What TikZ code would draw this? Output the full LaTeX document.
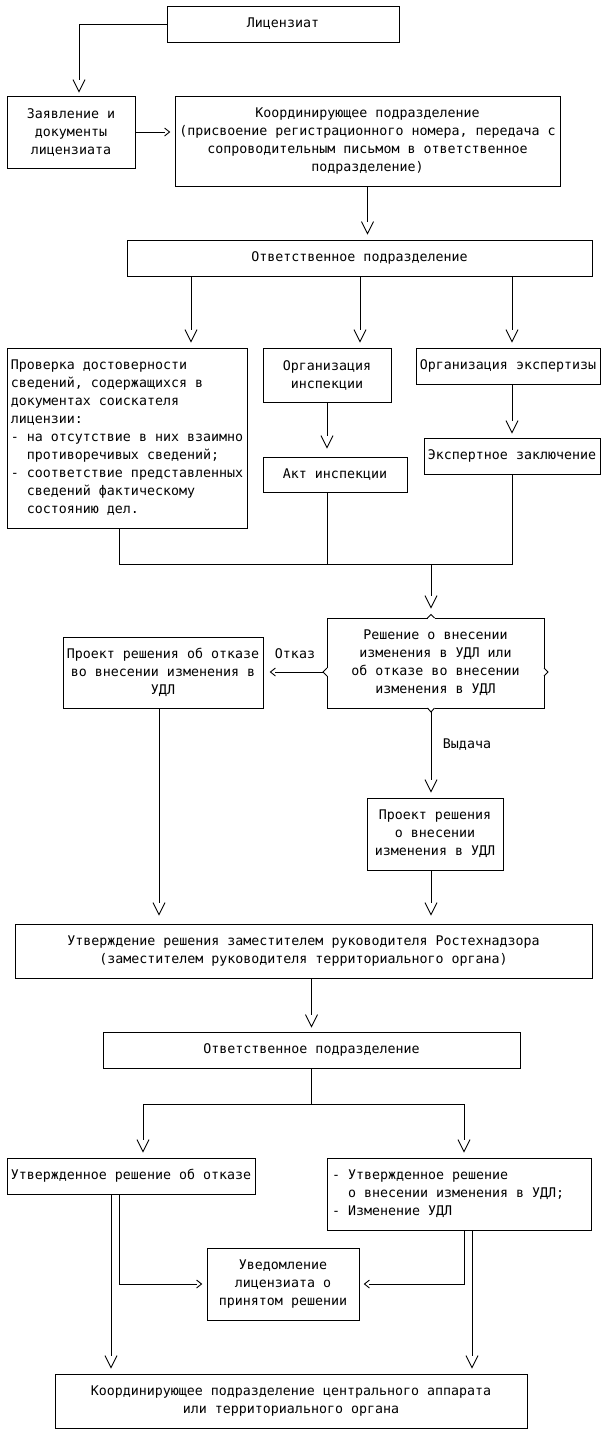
\documentclass[tikz,border=0pt]{standalone}
\usepackage{fontspec}
\setmonofont{DejaVu Sans Mono}
\usetikzlibrary{arrows.meta,calc}
\newcommand{\diafont}{\ttfamily\fontsize{13.3}{18}\selectfont}
\newcommand{\ind}{\phantom{mm}}
\pgfdeclarearrow{
  name = openV,
  defaults = { length = 12pt, width = 12pt },
  parameters = { \the\pgfarrowlength,\the\pgfarrowwidth },
  setup code = {
    \pgfarrowssettipend{0pt}
    \pgfarrowssetlineend{-\pgfarrowlength}
    \pgfarrowssetbackend{-\pgfarrowlength}
    \pgfarrowssavethe\pgfarrowlength
    \pgfarrowssavethe\pgfarrowwidth
  },
  drawing code = {
    \pgfsetdash{}{0pt}
    \pgfpathmoveto{\pgfqpoint{-\pgfarrowlength}{.5\pgfarrowwidth}}
    \pgfpathlineto{\pgfqpoint{0pt}{0pt}}
    \pgfpathlineto{\pgfqpoint{-\pgfarrowlength}{-.5\pgfarrowwidth}}
    \pgfusepathqstroke
  }
}
\begin{document}
\begin{tikzpicture}[x=1pt,y=-1pt,
  box/.style={draw, line width=.9pt, inner sep=0pt, align=center, font=\diafont},
  lbox/.style={box, align=left},
  wire/.style={draw, line width=.9pt},
  conn/.style={wire, -{openV}, shorten >=6pt},
  hconn/.style={wire, -{openV[length=5pt,width=8pt]}, shorten >=5pt},
  lab/.style={font=\diafont, inner sep=0pt},
  chev/.style={draw, line width=.9pt}]
\fill[white] (0,0) rectangle (604,1435);
\useasboundingbox (0,0) rectangle (604,1435);

% boxes
\node[box, minimum width=232pt, minimum height=36pt] (lic) at (283,24) {Лицензиат};
\node[box, minimum width=128pt, minimum height=72pt] (zayav) at (71,132) {Заявление и\\документы\\лицензиата};
\node[box, minimum width=385pt, minimum height=90pt] (koord) at (367.5,141) {Координирующее подразделение\\(присвоение регистрационного номера, передача с\\сопроводительным письмом в ответственное\\подразделение)};
\node[box, minimum width=465pt, minimum height=36pt] (otv1) at (359.5,258) {Ответственное подразделение};
\node[lbox, minimum width=240pt, minimum height=180pt] (prov) at (127,438) {Проверка достоверности\\сведений, содержащихся в\\документах соискателя\\лицензии:\\- на отсутствие в них взаимно\\\ind противоречивых сведений;\\- соответствие представленных\\\ind сведений фактическому\\\ind состоянию дел.};
\node[box, minimum width=128pt, minimum height=54pt] (orgi) at (327,375) {Организация\\инспекции};
\node[box, minimum width=184pt, minimum height=36pt] (orge) at (508,366) {Организация экспертизы};
\node[box, minimum width=144pt, minimum height=35pt] (akt) at (335,474.5) {Акт инспекции};
\node[box, minimum width=176pt, minimum height=36pt] (eksp) at (512,456) {Экспертное заключение};
\node[box, minimum width=217pt, minimum height=90pt] (resh) at (435.5,663) {Решение о внесении\\изменения в УДЛ или\\об отказе во внесении\\изменения в УДЛ};
\node[box, minimum width=200pt, minimum height=71pt] (potk) at (163,672.5) {Проект решения об отказе\\во внесении изменения в\\УДЛ};
\node[box, minimum width=136pt, minimum height=72pt] (pvn) at (435,834) {Проект решения\\о внесении\\изменения в УДЛ};
\node[box, minimum width=577pt, minimum height=54pt] (utv) at (303.5,951) {Утверждение решения заместителем руководителя Ростехнадзора\\(заместителем руководителя территориального органа)};
\node[box, minimum width=417pt, minimum height=36pt] (otv2) at (311.5,1050) {Ответственное подразделение};
\node[box, minimum width=248pt, minimum height=36pt] (uotk) at (131,1176) {Утвержденное решение об отказе};
\node[lbox, minimum width=264pt, minimum height=72pt] (uvn) at (459,1194) {- Утвержденное решение\\\makebox[254pt][l]{\ind о внесении изменения в УДЛ;}\\- Изменение УДЛ};
\node[box, minimum width=152pt, minimum height=72pt] (uved) at (283,1284) {Уведомление\\лицензиата о\\принятом решении};
\node[box, minimum width=472pt, minimum height=54pt] (fin) at (291,1401) {Координирующее подразделение центрального аппарата\\или территориального органа};

% decision chevrons on resh
\coordinate (rt) at (431,614.5);
\coordinate (rb) at (431,712);
\coordinate (rl) at (323,672);
\coordinate (rr) at (548,672);
\draw[white, line width=1.6pt] (427.5,618) -- (434.5,618) (427.5,708) -- (434.5,708)
  (327,668) -- (327,676) (544,668) -- (544,676);
\draw[chev] (427.5,618) -- (rt) -- (434.5,618);
\draw[chev] (427.5,708) -- (rb) -- (434.5,708);
\draw[chev] (327,668) -- (rl) -- (327,676);
\draw[chev] (544,668) -- (rr) -- (544,676);

% helper x positions
\coordinate (x79) at (79,0);
\coordinate (x191) at (191,0);
\coordinate (x360) at (360,0);
\coordinate (x512) at (512,0);
\coordinate (x327) at (327,0);
\coordinate (x119) at (119,0);
\coordinate (x431) at (431,0);
\coordinate (x159) at (159,0);
\coordinate (x143) at (143,0);
\coordinate (x464) at (464,0);
\coordinate (x111) at (111,0);
\coordinate (x472) at (472,0);
\coordinate (mj) at (431,564);
\coordinate (sp) at (311,1104);

% connectors
\draw[conn, shorten >=4pt] (lic.west) -| (zayav.north -| x79);
\draw[hconn] (zayav.east) -- (zayav.east -| koord.west);
\draw[conn] (koord.south) -- (otv1.north -| koord.south);
\draw[conn] (otv1.south -| x191) -- (prov.north -| x191);
\draw[conn] (otv1.south -| x360) -- (orgi.north -| x360);
\draw[conn] (otv1.south -| x512) -- (orge.north -| x512);
\draw[conn, shorten >=9pt] (orgi.south -| x327) -- (akt.north -| x327);
\draw[conn, shorten >=5pt] (orge.south -| x512) -- (eksp.north -| x512);
\draw[wire] (prov.south -| x119) -- (x119 |- mj) -- (x512 |- mj) -- (eksp.south -| x512);
\draw[wire] (akt.south -| x327) -- (x327 |- mj);
\draw[conn, shorten >=10pt] (mj) -- (resh.north -| mj);
\draw[hconn, shorten >=7pt] (rl) -- (rl -| potk.east);
\node[lab] (otkaz) at (295,654) {Отказ};
\draw[conn] (rb) -- (rb |- pvn.north);
\node[lab] (vyd) at (467,745) {Выдача};
\draw[conn, shorten >=9pt] (potk.south -| x159) -- (utv.north -| x159);
\draw[conn, shorten >=9pt] (pvn.south -| x431) -- (utv.north -| x431);
\draw[conn, shorten >=5pt] (utv.south -| otv2.south) -- (otv2.north);
\draw[conn] (otv2.south) -- (otv2.south |- sp) -| (uotk.north -| x143);
\draw[conn] (otv2.south |- sp) -| (uvn.north -| x464);
\draw[conn] (uotk.south -| x111) -- (fin.north -| x111);
\draw[hconn] (uotk.south -| x119) |- (uved.west);
\draw[hconn] (uvn.south -| x464) |- (uved.east);
\draw[conn] (uvn.south -| x472) -- (fin.north -| x472);
\end{tikzpicture}
\end{document}
